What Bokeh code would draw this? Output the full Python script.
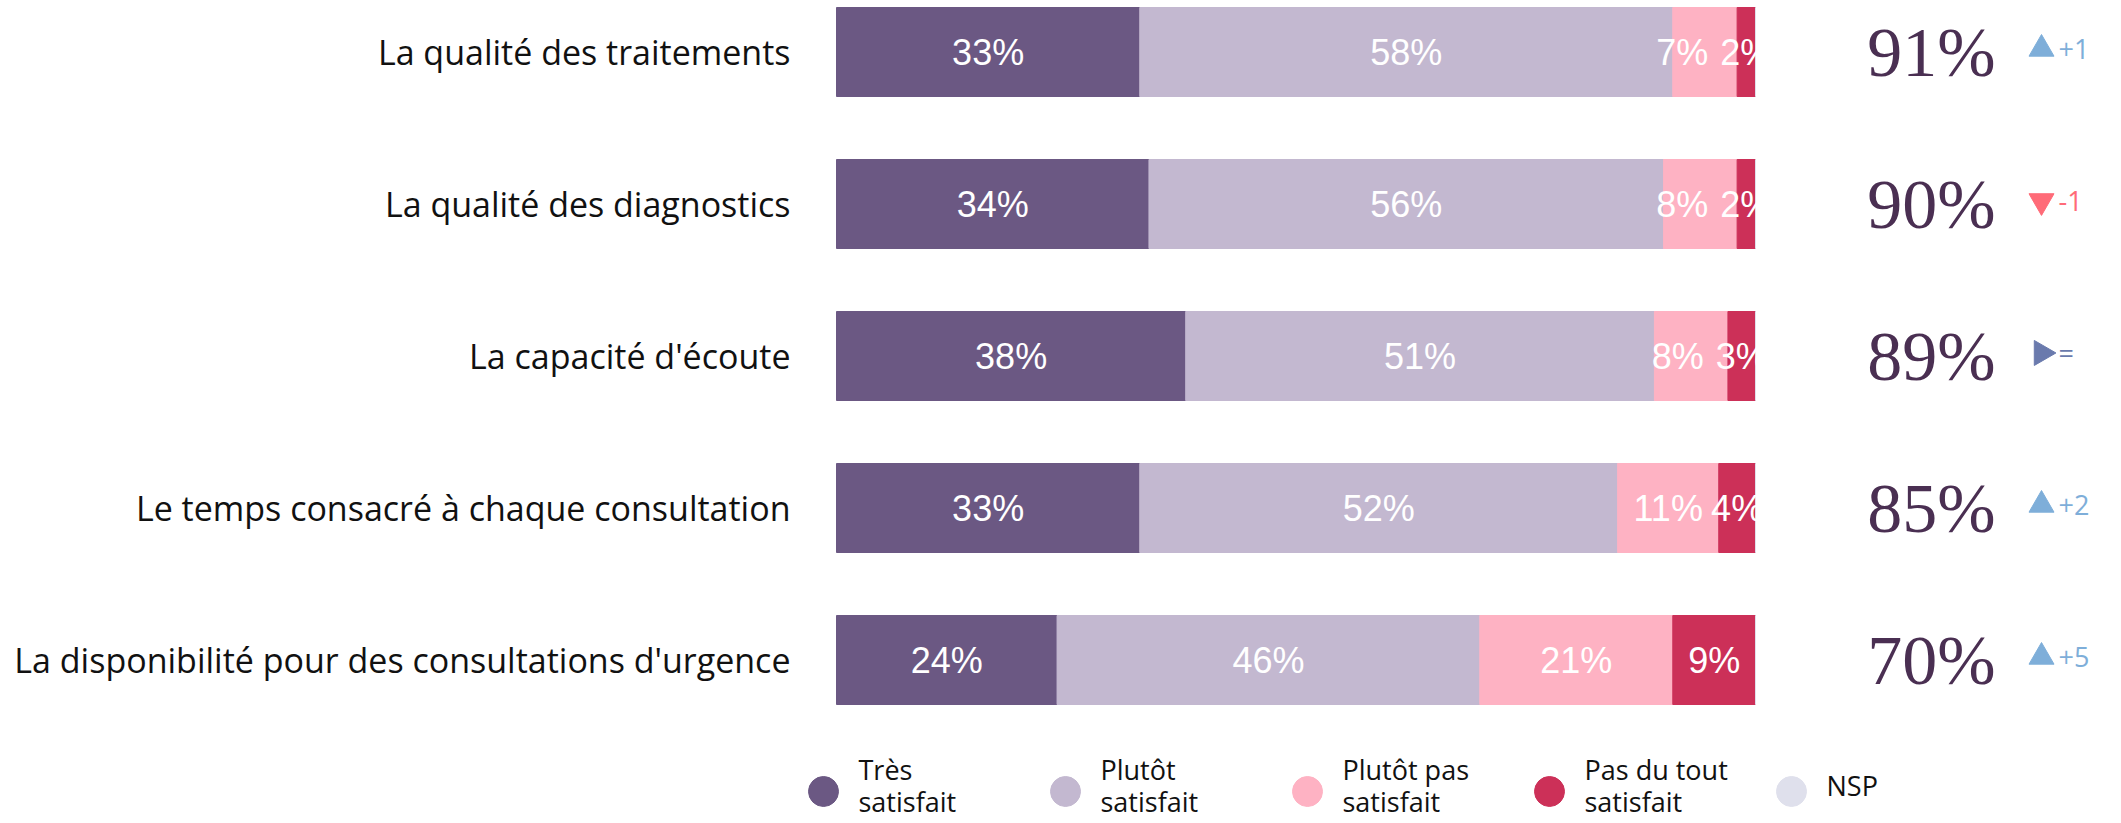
import math
from bokeh.plotting import figure
from bokeh.models import ColumnDataSource, Range1d
from bokeh.core.properties import value
from bokeh.embed import file_html
from bokeh.resources import INLINE

# ---------------- data ----------------
categories = [
    "La qualité des traitements",
    "La qualité des diagnostics",
    "La capacité d'écoute",
    "Le temps consacré à chaque consultation",
    "La disponibilité pour des consultations d'urgence",
]
tres_satisfait = [33, 34, 38, 33, 24]
plutot_satisfait = [58, 56, 51, 52, 46]
plutot_pas_satisfait = [7, 8, 8, 11, 21]
pas_du_tout_satisfait = [2, 2, 3, 4, 9]
nsp = [0, 0, 0, 0, 0]
totals = [91, 90, 89, 85, 70]
deltas = ["+1", "-1", "=", "+2", "+5"]
series_names = ["Très\nsatisfait", "Plutôt\nsatisfait", "Plutôt pas\nsatisfait",
                "Pas du tout\nsatisfait", "NSP"]

# ---------------- style / layout ----------------
colors = ["#6b5883", "#c3b8d0", "#feb2c3", "#cc3058", "#dfe0ec"]
W, H = 2100, 821
PX_LEFT = 836.0      # frame px where 0 % starts
PX_PER = 9.19        # px per percent
ROW0 = 51.5          # frame px of first row centre
ROW_STEP = 152.0     # px between rows
BAR_H = 89.0 / ROW_STEP

x0 = -PX_LEFT / PX_PER
x1 = x0 + W / PX_PER
y_top = -ROW0 / ROW_STEP
y_bot = (H - ROW0) / ROW_STEP

def px(v):  # pixel distance -> percent units
    return v / PX_PER

p = figure(width=W, height=H, x_range=Range1d(x0, x1), y_range=Range1d(y_bot, y_top),
           output_backend="svg", toolbar_location=None, min_border=0)
p.axis.visible = False
p.grid.visible = False
p.outline_line_color = None
p.background_fill_color = "white"
p.border_fill_color = "white"

rows = list(range(len(categories)))
keys = ["tres", "plutot", "plutot_pas", "pas_du_tout", "nsp"]
series = [tres_satisfait, plutot_satisfait, plutot_pas_satisfait, pas_du_tout_satisfait, nsp]
src = ColumnDataSource(dict(y=rows, **{k: s for k, s in zip(keys, series)}))
p.hbar_stack(keys, y="y", height=BAR_H, color=colors, source=src)

# ---------------- value labels in bars ----------------
FS_VAL = 36
def label_w(t):
    w = 0
    for ch in t:
        w += 0.889 * FS_VAL if ch == "%" else (0.40 * FS_VAL if ch == "1" else 0.556 * FS_VAL)
    return w

GAP = 12.0
lx, ly, lt = [], [], []
for r in rows:
    vals = [s[r] for s in series[:4]]
    texts = [f"{v}%" for v in vals]
    cum, centers = 0, []
    for v in vals:
        centers.append(cum + v / 2)
        cum += v
    pos = centers[:]
    for j in range(len(pos) - 2, -1, -1):
        max_right = pos[j + 1] - px(label_w(texts[j + 1]) / 2 + GAP)
        if pos[j] + px(label_w(texts[j]) / 2) > max_right:
            pos[j] = max_right - px(label_w(texts[j]) / 2)
    for j, v in enumerate(vals):
        if v > 0:
            lx.append(pos[j]); ly.append(r); lt.append(texts[j])
p.text(x=lx, y=ly, text=lt, text_color="white", text_font=value("Liberation Sans"),
       text_font_size=f"{FS_VAL}px", text_align="center", text_baseline="middle")

# clip labels at the end of the bars
p.quad(left=[100 + px(1)] * len(rows), right=[100 + px(40)] * len(rows),
       bottom=[r + BAR_H / 2 + 0.01 for r in rows], top=[r - BAR_H / 2 - 0.01 for r in rows],
       fill_color="white", line_color=None)

# ---------------- category labels ----------------
p.text(x=[px(-46)] * len(rows), y=rows, text=categories, text_color="#111111",
       text_font=value("Open Sans"), text_font_size="34px", text_align="right",
       text_baseline="middle")

# ---------------- totals ----------------
p.text(x=[px(1095)] * len(rows), y=rows, text=[f"{t}%" for t in totals], text_color="#4a2f52",
       text_font=value("Liberation Serif"), text_font_size="70px", text_align="center",
       text_baseline="middle")

# ---------------- deltas ----------------
up_c, down_c, eq_c = "#7eaed9", "#ff6b78", "#6a7aad"
mk, ang, dcol = [], [], []
for d in deltas:
    if d.startswith("+"):
        mk.append("triangle"); ang.append(0.0); dcol.append(up_c)
    elif d.startswith("-"):
        mk.append("inverted_triangle"); ang.append(0.0); dcol.append(down_c)
    else:
        mk.append("triangle"); ang.append(-math.pi / 2); dcol.append(eq_c)
dsrc = ColumnDataSource(dict(x=[px(1205)] * len(rows), y=[r - 0.02 for r in rows], marker=mk,
                             angle=ang, color=dcol, tx=[px(1222)] * len(rows), text=deltas))
p.scatter(x="x", y="y", marker="marker", angle="angle", size=25, fill_color="color",
          line_color="color", source=dsrc)
p.text(x="tx", y="y", text="text", text_color="color", text_font=value("Open Sans"),
       text_font_size="27px", text_align="left", text_baseline="middle", source=dsrc)

# ---------------- legend ----------------
LEG_Y = (791 - ROW0) / ROW_STEP
LEG_TY = (785 - ROW0) / ROW_STEP
leg_x = [px(-13 + 242 * i) for i in range(len(series_names))]
p.scatter(x=leg_x, y=[LEG_Y] * len(leg_x), marker="circle", size=30, color=colors)
p.text(x=[x + px(35) for x in leg_x], y=[LEG_TY] * len(leg_x), text=series_names,
       text_color="#111111", text_font=value("Open Sans"), text_font_size="27px",
       text_align="left", text_baseline="middle", text_line_height=0.88)

open("out.html", "w").write(file_html(p, INLINE))
